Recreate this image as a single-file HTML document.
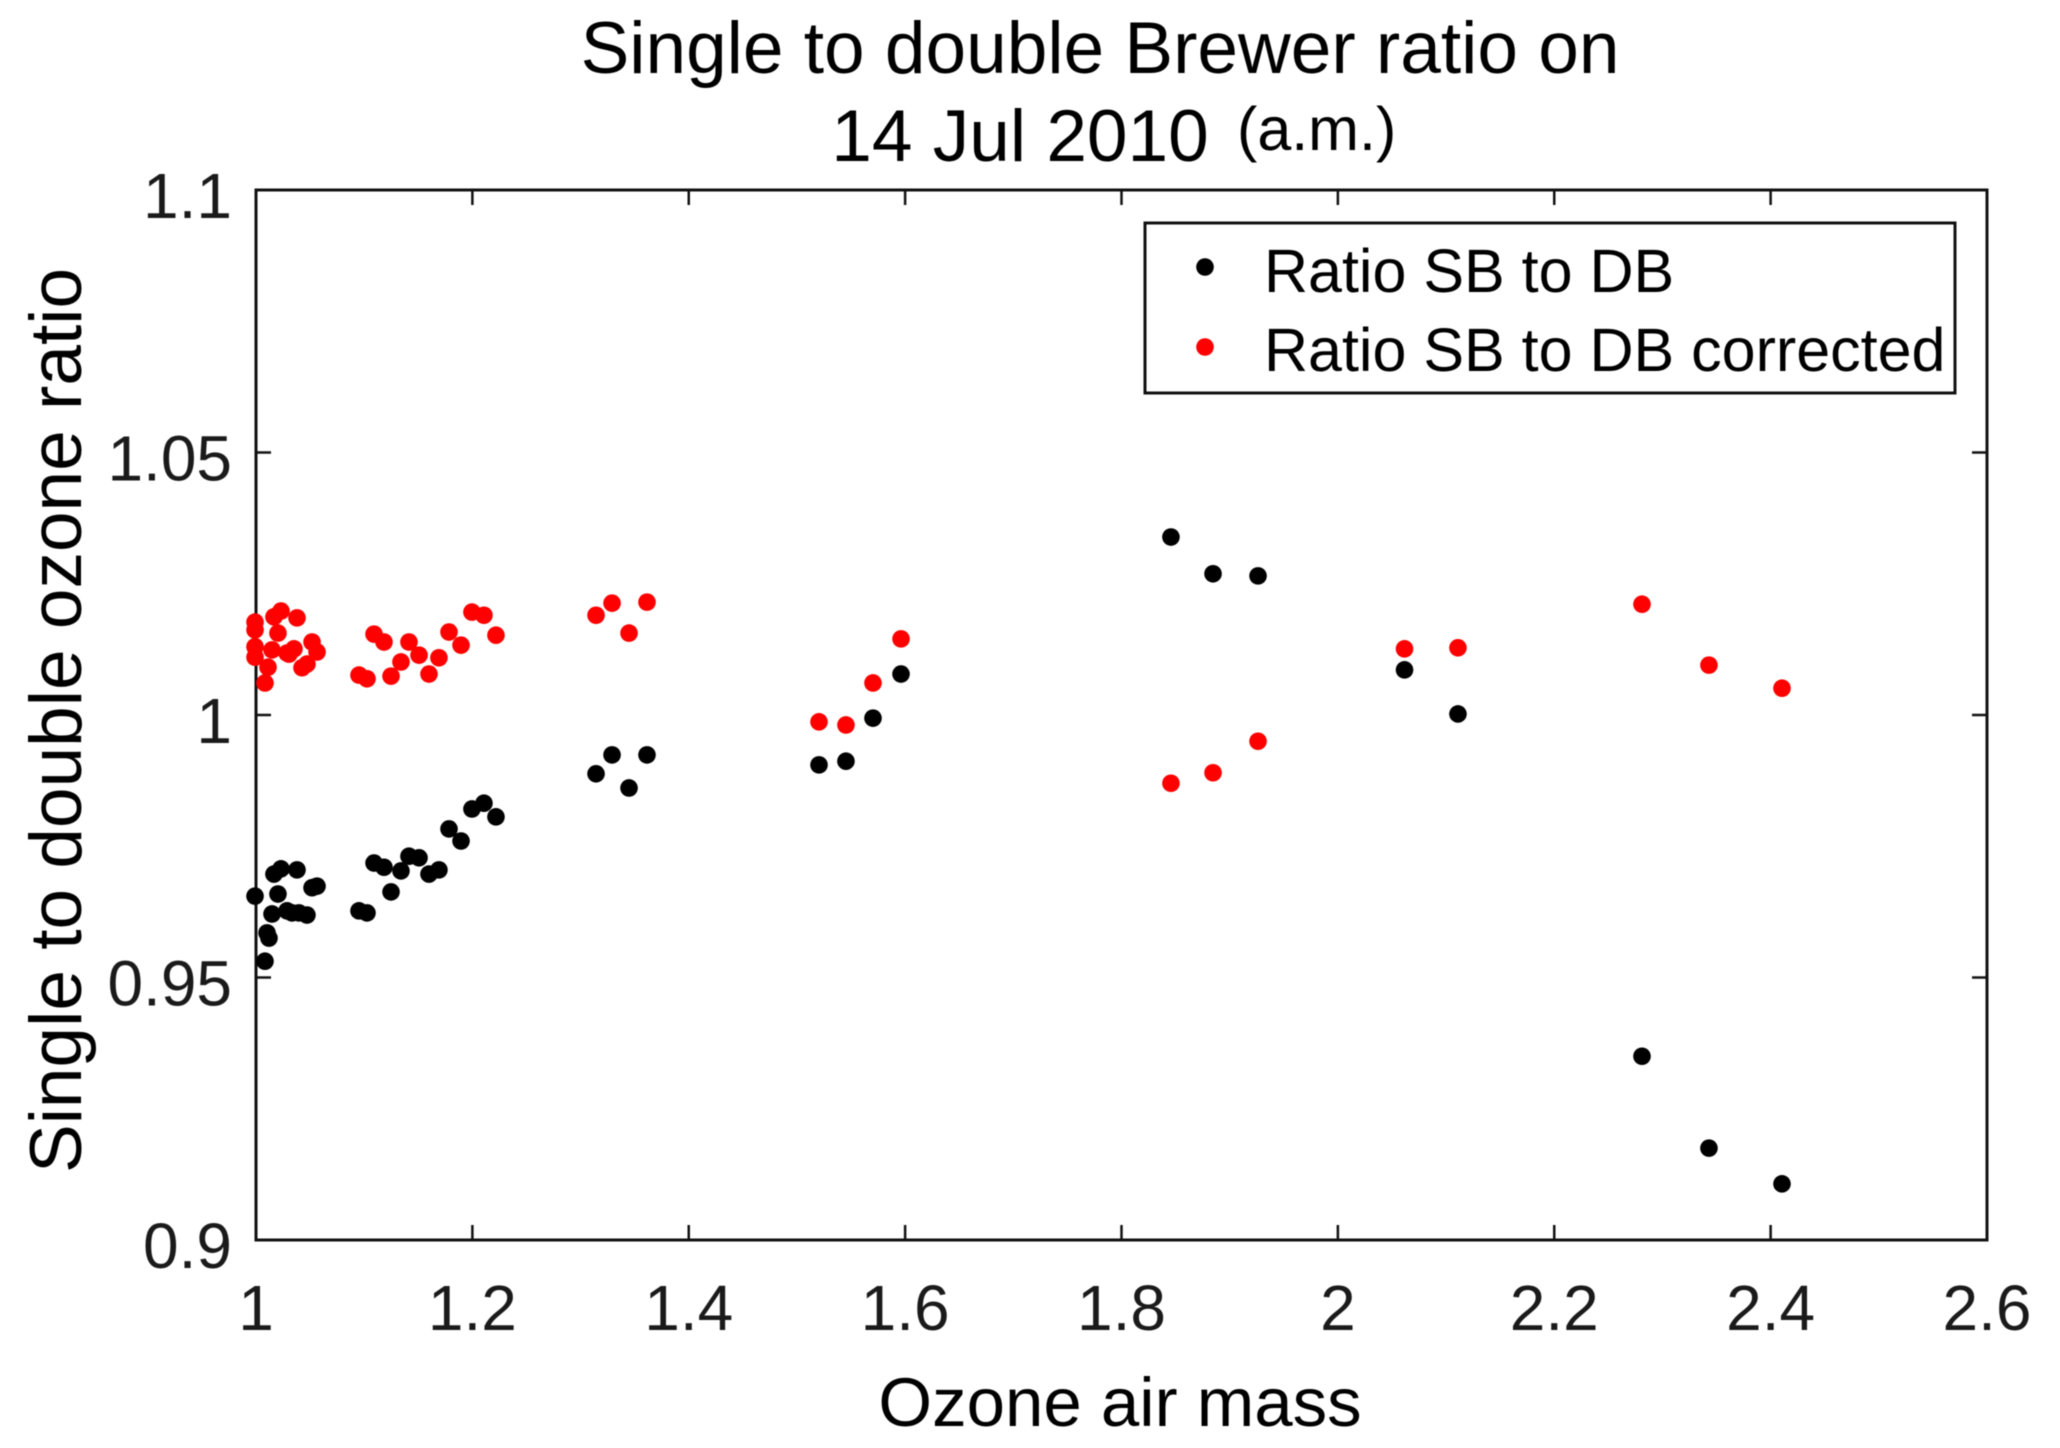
<!DOCTYPE html>
<html lang="en">
<head>
<meta charset="utf-8">
<title>Single to double Brewer ratio on 14 Jul 2010 (a.m.)</title>
<style>
html,body{margin:0;padding:0;background:#fff;width:2060px;height:1448px;overflow:hidden}
svg{display:block;filter:blur(0.6px)}
text{font-family:"Liberation Sans",Arial,sans-serif;fill:#000}
</style>
</head>
<body>
<svg id="chart" xmlns="http://www.w3.org/2000/svg" width="2060" height="1448" viewBox="0 0 2060 1448">
  <rect x="0" y="0" width="2060" height="1448" fill="#fff"/>
  <text x="1100" y="73" font-size="73" text-anchor="middle">Single to double Brewer ratio on</text>
  <text x="1020" y="161" font-size="73" text-anchor="middle">14 Jul 2010</text>
  <text x="1237" y="150" font-size="61">(a.m.)</text>
  <g id="ticks"></g>
  <rect x="256" y="190" width="1731" height="1050" fill="none" stroke="#111" stroke-width="3"/>
  <g id="points"></g>
  <text transform="translate(81,1173) rotate(-90)" font-size="73">Single to double ozone ratio</text>
  <text x="1120" y="1426" font-size="69" text-anchor="middle">Ozone air mass</text>
  <g>
    <rect x="1145" y="223" width="810" height="170" fill="#fff" stroke="#111" stroke-width="3"/>
    <circle cx="1205" cy="267" r="8.8" fill="#000"/>
    <text x="1264" y="292" font-size="61">Ratio SB to DB</text>
    <circle cx="1205" cy="347" r="8.8" fill="#ff0000"/>
    <text x="1264" y="371" font-size="61">Ratio SB to DB corrected</text>
  </g>
</svg>
<script>
const xTickValues = [1, 1.2, 1.4, 1.6, 1.8, 2, 2.2, 2.4, 2.6];
const xTickLabels = ["1", "1.2", "1.4", "1.6", "1.8", "2", "2.2", "2.4", "2.6"];
const yTickValues = [0.9, 0.95, 1, 1.05, 1.1];
const yTickLabels = ["0.9", "0.95", "1", "1.05", "1.1"];

const ratioAirMass = [0.9991, 1.0083, 1.0102, 1.0120, 1.0148, 1.0166, 1.0231, 1.0203, 1.0379, 1.0287, 1.0333, 1.0397, 1.0471, 1.0518, 1.0564, 1.0952, 1.1026, 1.1091, 1.1183, 1.1248, 1.1340, 1.1414, 1.1507, 1.1599, 1.1691, 1.1784, 1.1895, 1.1996, 1.2107, 1.2218, 1.3143, 1.3291, 1.3448, 1.3614, 1.5204, 1.5453, 1.5703, 1.5962, 1.8457, 1.8846, 1.9262, 2.0616, 2.1110, 2.2811, 2.3430, 2.4105];
const ratioValues = [0.9655, 0.9531, 0.9585, 0.9575, 0.9621, 0.9697, 0.9707, 0.9659, 0.9705, 0.9627, 0.9623, 0.9623, 0.9619, 0.9671, 0.9674, 0.9627, 0.9623, 0.9718, 0.9710, 0.9663, 0.9703, 0.9731, 0.9728, 0.9697, 0.9705, 0.9783, 0.9760, 0.9821, 0.9832, 0.9806, 0.9888, 0.9924, 0.9861, 0.9924, 0.9905, 0.9912, 0.9994, 1.0078, 1.0339, 1.0269, 1.0265, 1.0086, 1.0002, 0.9350, 0.9175, 0.9107];

const correctedAirMass = [0.9991, 0.9991, 0.9991, 0.9991, 1.0083, 1.0111, 1.0148, 1.0166, 1.0231, 1.0203, 1.0379, 1.0287, 1.0305, 1.0351, 1.0518, 1.0564, 1.0425, 1.0471, 1.0952, 1.1026, 1.1091, 1.1183, 1.1248, 1.1340, 1.1414, 1.1507, 1.1599, 1.1691, 1.1784, 1.1895, 1.1996, 1.2107, 1.2218, 1.3143, 1.3291, 1.3448, 1.3614, 1.5204, 1.5453, 1.5703, 1.5962, 1.8457, 1.8846, 1.9262, 2.0616, 2.1110, 2.2811, 2.3430, 2.4105];
const correctedValues = [1.0177, 1.0162, 1.0130, 1.0110, 1.0061, 1.0091, 1.0124, 1.0187, 1.0198, 1.0156, 1.0185, 1.0118, 1.0116, 1.0126, 1.0139, 1.0120, 1.0090, 1.0097, 1.0076, 1.0069, 1.0154, 1.0139, 1.0074, 1.0101, 1.0139, 1.0114, 1.0078, 1.0109, 1.0158, 1.0133, 1.0196, 1.0190, 1.0152, 1.0190, 1.0213, 1.0156, 1.0215, 0.9987, 0.9981, 1.0061, 1.0145, 0.9870, 0.9890, 0.9950, 1.0126, 1.0128, 1.0211, 1.0095, 1.0051];

const svgNS = "http://www.w3.org/2000/svg";
const plotLeft = 256, plotRight = 1987, plotTop = 190, plotBottom = 1240;
const xMin = 1, xMax = 2.6, yMin = 0.9, yMax = 1.1;
const tickLength = 15;

function xScale(v) { return plotLeft + (v - xMin) / (xMax - xMin) * (plotRight - plotLeft); }
function yScale(v) { return plotBottom - (v - yMin) / (yMax - yMin) * (plotBottom - plotTop); }

const tickLayer = document.getElementById("ticks");
const pointLayer = document.getElementById("points");

function makeLine(x1, y1, x2, y2) {
  const el = document.createElementNS(svgNS, "line");
  el.setAttribute("x1", x1);
  el.setAttribute("y1", y1);
  el.setAttribute("x2", x2);
  el.setAttribute("y2", y2);
  el.setAttribute("stroke", "#111");
  el.setAttribute("stroke-width", "2.5");
  return el;
}

xTickValues.forEach(function (v, i) {
  const px = xScale(v);
  const bottomTick = makeLine(px, plotBottom, px, plotBottom - tickLength);
  
  
  tickLayer.appendChild(bottomTick);
  const topTick = makeLine(px, plotTop, px, plotTop + tickLength);
  
  
  tickLayer.appendChild(topTick);
  const label = document.createElementNS(svgNS, "text");
  
  
  label.setAttribute("x", px);
  label.setAttribute("y", 1330);
  label.setAttribute("font-size", "64");
  label.setAttribute("text-anchor", "middle");
  label.setAttribute("style", "fill:#1a1a1a");
  label.textContent = xTickLabels[i];
  tickLayer.appendChild(label);
});

yTickValues.forEach(function (v, i) {
  const py = yScale(v);
  const leftTick = makeLine(plotLeft, py, plotLeft + tickLength, py);
  
  
  tickLayer.appendChild(leftTick);
  const rightTick = makeLine(plotRight, py, plotRight - tickLength, py);
  
  
  tickLayer.appendChild(rightTick);
  const label = document.createElementNS(svgNS, "text");
  
  
  label.setAttribute("x", 232);
  label.setAttribute("y", py + 28);
  label.setAttribute("font-size", "64");
  label.setAttribute("text-anchor", "end");
  label.setAttribute("style", "fill:#1a1a1a");
  label.textContent = yTickLabels[i];
  tickLayer.appendChild(label);
});

ratioAirMass.forEach(function (v, i) {
  const dot = document.createElementNS(svgNS, "circle");
  
  
  dot.setAttribute("cx", xScale(v));
  dot.setAttribute("cy", yScale(ratioValues[i]));
  dot.setAttribute("r", "8.8");
  dot.setAttribute("fill", "#000");
  pointLayer.appendChild(dot);
});

correctedAirMass.forEach(function (v, i) {
  const dot = document.createElementNS(svgNS, "circle");
  
  
  dot.setAttribute("cx", xScale(v));
  dot.setAttribute("cy", yScale(correctedValues[i]));
  dot.setAttribute("r", "8.8");
  dot.setAttribute("fill", "#ff0000");
  pointLayer.appendChild(dot);
});
</script>
</body>
</html>
